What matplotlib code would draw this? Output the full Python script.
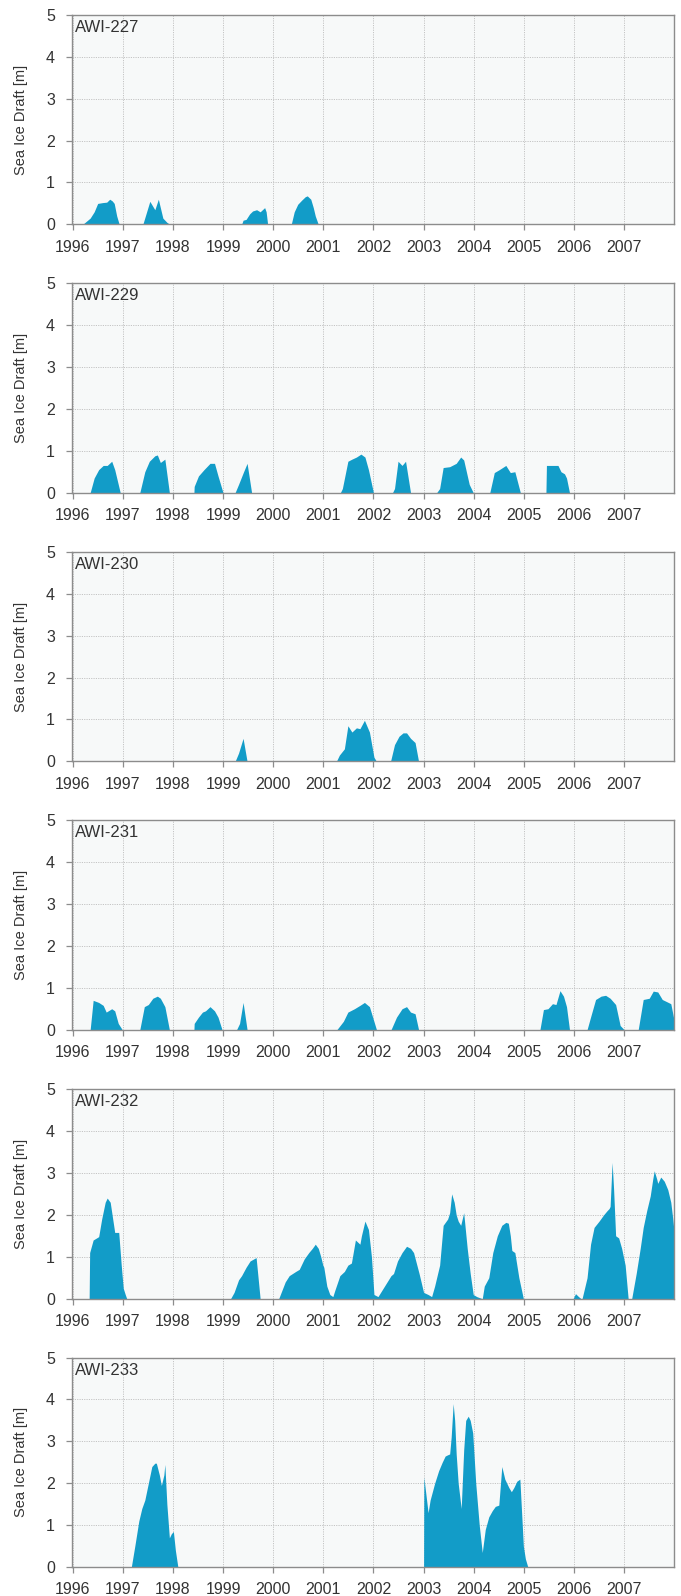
import matplotlib
matplotlib.use("Agg")
import matplotlib.pyplot as plt

plt.rcParams['font.family'] = ['Liberation Sans', 'DejaVu Sans']

# ---------------- data (decimal year, sea ice draft in m) ----------------
moorings = ["AWI-227", "AWI-229", "AWI-230", "AWI-231", "AWI-232", "AWI-233"]

awi227_year = [1996.20, 1996.35, 1996.43, 1996.50, 1996.60, 1996.68, 1996.74, 1996.79, 1996.83, 1996.88, 1996.93,
               1997.40, 1997.54, 1997.64, 1997.71, 1997.76, 1997.80, 1997.88, 1997.94,
               1999.37, 1999.40, 1999.46, 1999.53, 1999.59, 1999.67, 1999.74, 1999.83, 1999.86, 1999.89,
               2000.36, 2000.42, 2000.49, 2000.57, 2000.64, 2000.68, 2000.75, 2000.80, 2000.84, 2000.90]
awi227_draft = [0.00, 0.15, 0.30, 0.50, 0.52, 0.53, 0.60, 0.56, 0.50, 0.20, 0.00,
                0.00, 0.55, 0.35, 0.60, 0.35, 0.15, 0.05, 0.00,
                0.00, 0.10, 0.12, 0.25, 0.32, 0.35, 0.30, 0.40, 0.30, 0.00,
                0.00, 0.30, 0.48, 0.58, 0.66, 0.68, 0.60, 0.40, 0.20, 0.00]

awi229_year = [1996.35, 1996.43, 1996.52, 1996.61, 1996.69, 1996.78, 1996.84, 1996.95,
               1997.34, 1997.44, 1997.53, 1997.64, 1997.69, 1997.75, 1997.84, 1997.93,
               1998.42, 1998.425, 1998.51, 1998.62, 1998.74, 1998.83, 1998.90, 1999.00,
               1999.24, 1999.31, 1999.41, 1999.48, 1999.57,
               2001.34, 2001.38, 2001.49, 2001.57, 2001.66, 2001.75, 2001.83, 2001.90, 2002.00,
               2002.38, 2002.42, 2002.49, 2002.57, 2002.64, 2002.74,
               2003.26, 2003.32, 2003.39, 2003.52, 2003.65, 2003.74, 2003.80, 2003.91, 2003.99,
               2004.32, 2004.41, 2004.51, 2004.64, 2004.73, 2004.82, 2004.93,
               2005.44, 2005.45, 2005.68, 2005.74, 2005.81, 2005.85, 2005.91]
awi229_draft = [0.00, 0.35, 0.55, 0.65, 0.65, 0.75, 0.55, 0.00,
                0.00, 0.50, 0.75, 0.88, 0.90, 0.72, 0.80, 0.00,
                0.00, 0.15, 0.40, 0.55, 0.70, 0.70, 0.40, 0.00,
                0.00, 0.20, 0.50, 0.70, 0.00,
                0.00, 0.10, 0.75, 0.80, 0.85, 0.92, 0.85, 0.55, 0.00,
                0.00, 0.10, 0.75, 0.65, 0.75, 0.00,
                0.00, 0.10, 0.60, 0.62, 0.70, 0.85, 0.78, 0.20, 0.00,
                0.00, 0.48, 0.55, 0.65, 0.48, 0.50, 0.00,
                0.00, 0.65, 0.65, 0.50, 0.45, 0.35, 0.00]

awi230_year = [1999.24, 1999.31, 1999.40, 1999.48,
               2001.26, 2001.32, 2001.42, 2001.49, 2001.57, 2001.66, 2001.73, 2001.82, 2001.92, 2002.01, 2002.06,
               2002.34, 2002.42, 2002.51, 2002.59, 2002.66, 2002.74, 2002.83, 2002.90]
awi230_draft = [0.00, 0.20, 0.55, 0.00,
                0.00, 0.15, 0.30, 0.85, 0.70, 0.80, 0.78, 0.98, 0.70, 0.10, 0.00,
                0.00, 0.40, 0.60, 0.68, 0.68, 0.55, 0.45, 0.00]

awi231_year = [1996.35, 1996.41, 1996.52, 1996.61, 1996.67, 1996.78, 1996.84, 1996.91, 1996.99,
               1997.34, 1997.43, 1997.51, 1997.60, 1997.69, 1997.75, 1997.84, 1997.93,
               1998.42, 1998.425, 1998.51, 1998.59, 1998.65, 1998.74, 1998.83, 1998.90, 1998.98,
               1999.27, 1999.33, 1999.40, 1999.48,
               2001.27, 2001.40, 2001.49, 2001.62, 2001.73, 2001.82, 2001.92, 2002.06,
               2002.35, 2002.46, 2002.57, 2002.66, 2002.74, 2002.83, 2002.90,
               2005.32, 2005.39, 2005.48, 2005.57, 2005.64, 2005.72, 2005.79, 2005.85, 2005.91,
               2006.26, 2006.33, 2006.43, 2006.54, 2006.63, 2006.72, 2006.83, 2006.92, 2007.00,
               2007.28, 2007.38, 2007.50, 2007.58, 2007.67, 2007.76, 2007.88, 2007.93, 2008.00]
awi231_draft = [0.00, 0.70, 0.65, 0.58, 0.42, 0.50, 0.45, 0.15, 0.00,
                0.00, 0.55, 0.60, 0.75, 0.80, 0.75, 0.55, 0.00,
                0.00, 0.15, 0.30, 0.42, 0.45, 0.55, 0.45, 0.30, 0.00,
                0.00, 0.15, 0.65, 0.00,
                0.00, 0.20, 0.42, 0.50, 0.58, 0.65, 0.55, 0.00,
                0.00, 0.30, 0.50, 0.55, 0.42, 0.38, 0.00,
                0.00, 0.48, 0.50, 0.62, 0.60, 0.93, 0.80, 0.55, 0.00,
                0.00, 0.30, 0.72, 0.80, 0.82, 0.75, 0.60, 0.10, 0.00,
                0.00, 0.72, 0.75, 0.92, 0.90, 0.72, 0.65, 0.62, 0.20]

awi232_year = [1996.33, 1996.34, 1996.41, 1996.48, 1996.52, 1996.58, 1996.65, 1996.69, 1996.75, 1996.80,
               1996.84, 1996.92, 1996.97, 1997.01, 1997.05, 1997.08,
               1999.15, 1999.22, 1999.31, 1999.37, 1999.46, 1999.54, 1999.66, 1999.74,
               2000.11, 2000.24, 2000.32, 2000.45, 2000.52, 2000.62, 2000.71, 2000.78, 2000.84, 2000.90,
               2000.95, 2000.99, 2001.01, 2001.07, 2001.13, 2001.19, 2001.23, 2001.33, 2001.42, 2001.49,
               2001.56, 2001.64, 2001.73, 2001.76, 2001.83, 2001.90, 2001.96, 2002.01, 2002.09,
               2002.22, 2002.35, 2002.40, 2002.48, 2002.57, 2002.66, 2002.74, 2002.80, 2002.91, 2003.00,
               2003.09, 2003.16, 2003.22, 2003.32, 2003.39, 2003.48, 2003.52, 2003.56, 2003.61, 2003.65,
               2003.69, 2003.74, 2003.80, 2003.87, 2003.93, 2003.99, 2004.06,
               2004.17, 2004.21, 2004.30, 2004.38, 2004.47, 2004.56, 2004.64, 2004.69, 2004.73, 2004.76,
               2004.82, 2004.90, 2004.99,
               2005.98, 2006.03, 2006.09, 2006.14,
               2006.16, 2006.26, 2006.33, 2006.40, 2006.50, 2006.59, 2006.66, 2006.70, 2006.72, 2006.76,
               2006.79, 2006.83, 2006.89, 2006.95, 2007.02, 2007.05, 2007.08,
               2007.15, 2007.24, 2007.32, 2007.38, 2007.45, 2007.52, 2007.57, 2007.60, 2007.65, 2007.67,
               2007.73, 2007.80, 2007.87, 2007.93, 2007.97, 2008.00]
awi232_draft = [0.00, 1.10, 1.40, 1.45, 1.48, 1.90, 2.30, 2.40, 2.30, 1.90,
                1.58, 1.58, 0.80, 0.25, 0.10, 0.00,
                0.00, 0.15, 0.45, 0.55, 0.75, 0.90, 0.98, 0.00,
                0.00, 0.40, 0.55, 0.65, 0.70, 0.95, 1.10, 1.20, 1.30, 1.20,
                1.00, 0.80, 0.75, 0.30, 0.10, 0.05, 0.20, 0.55, 0.65, 0.80,
                0.85, 1.40, 1.30, 1.50, 1.85, 1.65, 1.00, 0.10, 0.05,
                0.30, 0.55, 0.60, 0.90, 1.10, 1.25, 1.20, 1.10, 0.60, 0.15,
                0.10, 0.05, 0.30, 0.80, 1.75, 1.90, 2.05, 2.50, 2.30, 2.00,
                1.85, 1.75, 2.05, 1.20, 0.60, 0.10, 0.05,
                0.00, 0.30, 0.50, 1.10, 1.50, 1.75, 1.82, 1.80, 1.50, 1.15,
                1.10, 0.50, 0.00,
                0.00, 0.12, 0.05, 0.00,
                0.00, 0.50, 1.30, 1.70, 1.85, 2.00, 2.10, 2.15, 2.20, 3.25,
                2.60, 1.50, 1.45, 1.20, 0.80, 0.40, 0.00,
                0.00, 0.60, 1.20, 1.70, 2.10, 2.45, 2.85, 3.05, 2.85, 2.75,
                2.90, 2.80, 2.60, 2.30, 1.90, 1.55]

awi233_year = [1997.17, 1997.24, 1997.32, 1997.38, 1997.44, 1997.51, 1997.58, 1997.64, 1997.67, 1997.73,
               1997.77, 1997.82, 1997.84, 1997.88, 1997.93, 1997.97, 1998.01, 1998.05, 1998.10,
               2003.00, 2003.005, 2003.04, 2003.09, 2003.13, 2003.22, 2003.30, 2003.37, 2003.43, 2003.48,
               2003.52, 2003.55, 2003.59, 2003.62, 2003.65, 2003.69, 2003.75, 2003.80, 2003.84, 2003.89,
               2003.93, 2003.98, 2004.04, 2004.11, 2004.17, 2004.23, 2004.30, 2004.37, 2004.43, 2004.50,
               2004.56, 2004.62, 2004.70, 2004.75, 2004.80, 2004.86, 2004.92, 2004.99, 2005.03, 2005.08]
awi233_draft = [0.00, 0.50, 1.10, 1.40, 1.60, 2.00, 2.40, 2.48, 2.48, 2.20,
                1.95, 2.20, 2.45, 1.50, 0.70, 0.80, 0.85, 0.40, 0.00,
                0.00, 2.15, 1.80, 1.30, 1.60, 2.00, 2.30, 2.50, 2.65, 2.68,
                2.70, 3.10, 3.90, 3.50, 2.70, 2.00, 1.40, 2.80, 3.50, 3.60,
                3.50, 3.20, 2.00, 1.00, 0.35, 0.90, 1.20, 1.35, 1.45, 1.48,
                2.40, 2.10, 1.90, 1.80, 1.90, 2.05, 2.10, 0.50, 0.20, 0.00]

series = [(awi227_year, awi227_draft), (awi229_year, awi229_draft), (awi230_year, awi230_draft),
          (awi231_year, awi231_draft), (awi232_year, awi232_draft), (awi233_year, awi233_draft)]

year_ticks = list(range(1996, 2008))
draft_ticks = [0, 1, 2, 3, 4, 5]

# ---------------- figure ----------------
W, H = 681, 1596
fig = plt.figure(figsize=(W / 100, H / 100), dpi=100)

fill_color = "#129cc8"
spine_color = "#8c8c8c"
text_color = "#333333"

tops = [14.7, 283.0, 551.7, 820.0, 1089.0, 1357.5]
ax_h = 209.7
left_px, right_px = 71.6, 674.3

for name, (yr, dr), top in zip(moorings, series, tops):
    ax = fig.add_axes([left_px / W, 1 - (top + ax_h) / H, (right_px - left_px) / W, ax_h / H])
    ax.set_facecolor("#f7f9f9")
    ax.fill_between(yr, 0, dr, color=fill_color, linewidth=0, zorder=3)
    ax.set_xlim(1995.98, 2008.0)
    ax.set_ylim(0, 5)
    ax.set_xticks(year_ticks)
    ax.set_xticklabels([str(y) for y in year_ticks])
    ax.set_yticks(draft_ticks)
    ax.grid(True, color="#c4c4c4", linestyle=(0, (1.2, 1.2)), linewidth=0.7, zorder=1)
    ax.set_axisbelow(True)
    for s in ax.spines.values():
        s.set_color(spine_color)
        s.set_linewidth(1.0)
        s.set_zorder(4)
    ax.tick_params(axis="both", direction="out", length=4, width=0.9, color=spine_color,
                   labelsize=11.5, labelcolor=text_color)
    ax.tick_params(axis="x", pad=7)
    ax.tick_params(axis="y", pad=8)
    ax.set_ylabel("Sea Ice Draft [m]", fontsize=10.5, color=text_color)
    ax.yaxis.set_label_coords(-0.072, 0.5)
    ax.text(0.006, 0.975, name, transform=ax.transAxes, ha="left", va="top",
            fontsize=12, color=text_color, zorder=5)

fig.savefig("out.png", dpi=100)
